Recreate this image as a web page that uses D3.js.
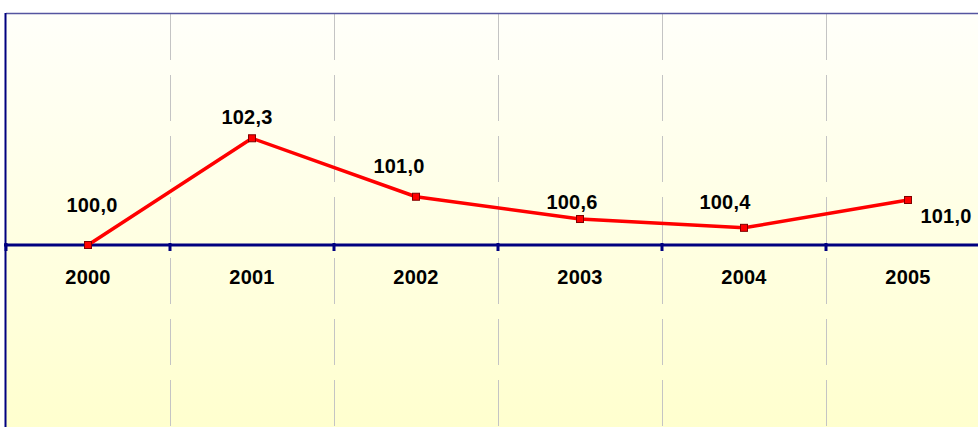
<!DOCTYPE html>
<html>
<head>
<meta charset="utf-8">
<script src="https://cdn.jsdelivr.net/npm/d3@7/dist/d3.min.js"></script>
<style>
  body { margin: 0; background: #fff; }
  svg { display: block; }
  text { font-family: "Liberation Sans", Arial, sans-serif; font-weight: bold; fill: #000; }
</style>
</head>
<body>
<svg id="chart"></svg>
<script>
// data
var years = ['2000', '2001', '2002', '2003', '2004', '2005'];
var values = [100.0, 102.3, 101.04, 100.56, 100.37, 100.97];

// manual label placement (dx, dy from the point)
var labelOffsets = [[4, -33], [-5, -14], [-17, -24], [-8, -10], [-19, -19], [38, 23]];

var width = 978, height = 427;
var margin = {top: 13, left: 6};

var svg = d3.select('#chart').attr('width', width).attr('height', height);

// category scale runs past the right edge, like the original
var x = d3.scaleBand().domain(years).range([margin.left, 990]).padding(0);
var y = d3.scaleLinear().domain([95, 105]).range([477, margin.top]);

// background gradient
var defs = svg.append('defs');
var grad = defs.append('linearGradient').attr('id', 'bg')
  .attr('x1', 0).attr('y1', 0).attr('x2', 0).attr('y2', 1);
grad.append('stop').attr('offset', '0%').attr('stop-color', '#FFFFFA');
grad.append('stop').attr('offset', '100%').attr('stop-color', '#FFFFCE');

svg.append('rect')
  .attr('x', margin.left).attr('y', margin.top)
  .attr('width', 1000).attr('height', height - margin.top + 2)
  .attr('fill', 'url(#bg)');

// vertical grid lines at category boundaries
var bounds = years.slice(1).map(d => x(d));
svg.selectAll('.grid').data(bounds).join('line')
  .attr('class', 'grid')
  .attr('x1', d => d + 0.5).attr('x2', d => d + 0.5)
  .attr('y1', margin.top + 1).attr('y2', height)
  .attr('stroke', '#C4C4C4').attr('stroke-width', 1)
  .attr('stroke-dasharray', '46,15');

// plot border (top and left)
svg.append('line')
  .attr('x1', margin.left).attr('x2', width)
  .attr('y1', margin.top + 0.5).attr('y2', margin.top + 0.5)
  .attr('stroke', '#5555A0').attr('stroke-width', 1.5);
svg.append('line')
  .attr('x1', margin.left - 0.5).attr('x2', margin.left - 0.5)
  .attr('y1', margin.top).attr('y2', height)
  .attr('stroke', '#000080').attr('stroke-width', 2);

// x axis at 100
var axisY = y(100);
svg.append('line')
  .attr('x1', margin.left - 2).attr('x2', width)
  .attr('y1', axisY).attr('y2', axisY)
  .attr('stroke', '#000080').attr('stroke-width', 3);

var tickPos = years.map(d => x(d));
svg.selectAll('.tick').data(tickPos).join('line')
  .attr('class', 'tick')
  .attr('x1', d => d).attr('x2', d => d)
  .attr('y1', axisY - 2).attr('y2', axisY + 6)
  .attr('stroke', '#000080').attr('stroke-width', 3);

svg.selectAll('.cat').data(years).join('text')
  .attr('class', 'cat')
  .attr('x', d => x(d) + x.bandwidth() / 2)
  .attr('y', axisY + 39)
  .attr('text-anchor', 'middle')
  .style('font-size', '20px')
  .style('letter-spacing', '0.2px')
  .text(d => d);

// line
var pts = years.map((d, i) => ({year: d, v: values[i], i: i}));
var line = d3.line().x(d => x(d.year) + x.bandwidth() / 2).y(d => y(d.v));
svg.append('path').datum(pts)
  .attr('d', line)
  .attr('fill', 'none')
  .attr('stroke', '#FF0000')
  .attr('stroke-width', 3.5)
  .attr('stroke-linejoin', 'round');

svg.selectAll('.mark').data(pts).join('rect')
  .attr('class', 'mark')
  .attr('x', d => x(d.year) + x.bandwidth() / 2 - 3.5)
  .attr('y', d => y(d.v) - 3.5)
  .attr('width', 7).attr('height', 7)
  .attr('fill', '#FF0000')
  .attr('stroke', '#800000').attr('stroke-width', 1);

// data labels
var fmt = v => v.toFixed(1).replace('.', ',');
svg.selectAll('.lbl').data(pts).join('text')
  .attr('class', 'lbl')
  .attr('x', d => x(d.year) + x.bandwidth() / 2 + labelOffsets[d.i][0])
  .attr('y', d => y(d.v) + labelOffsets[d.i][1])
  .attr('text-anchor', 'middle')
  .style('font-size', '20px')
  .style('letter-spacing', '0.2px')
  .text(d => fmt(d.v));
</script>
</body>
</html>
